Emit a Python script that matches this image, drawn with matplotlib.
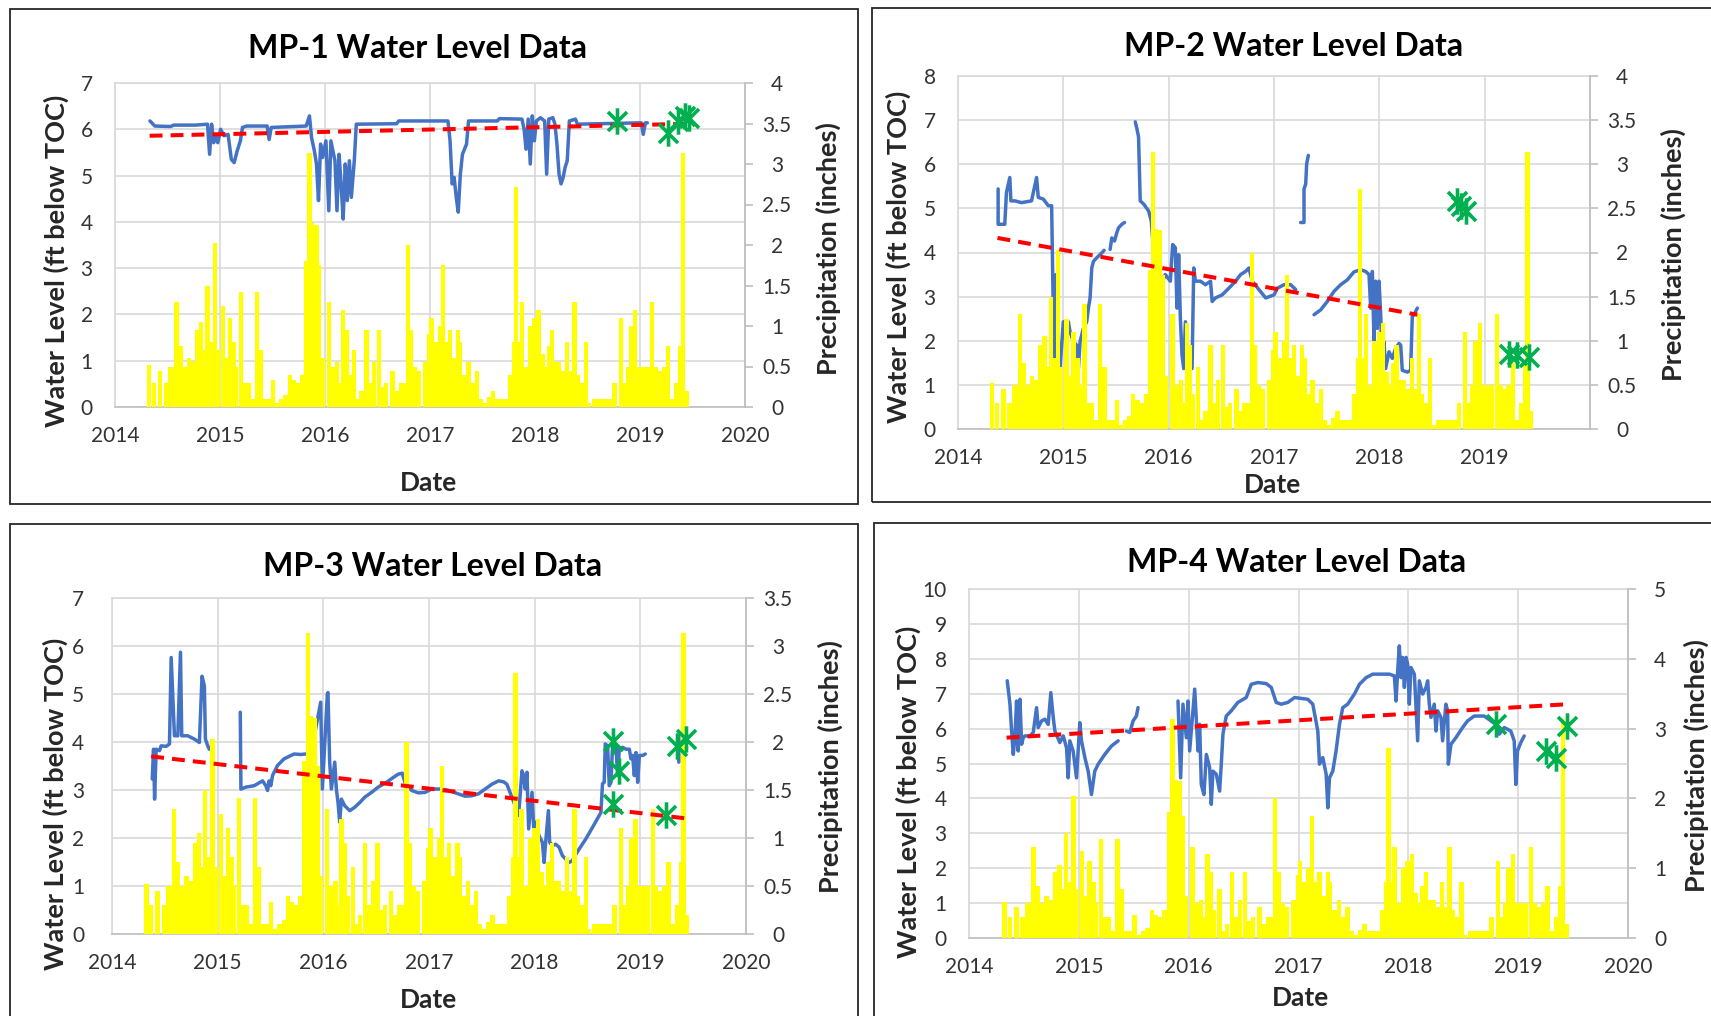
import numpy as np
import matplotlib
matplotlib.use('Agg')
import matplotlib.pyplot as plt
from matplotlib.path import Path
from matplotlib.patches import Rectangle

W, H = 1711, 1016
plt.rcParams['font.family'] = ['Lato', 'DejaVu Sans']
fig = plt.figure(figsize=(W / 100, H / 100), dpi=100)

N = float('nan')
YEARS = [2014, 2015, 2016, 2017, 2018, 2019, 2020]

# weekly-ish precipitation totals (inches), shared by all four wells
PRECIP = [
    (2014.325, 0.52), (2014.372, 0.30), (2014.431, 0.45), (2014.489, 0.30), (2014.529, 0.50),
    (2014.560, 0.50), (2014.587, 1.30), (2014.626, 0.75), (2014.666, 0.50), (2014.705, 0.60),
    (2014.744, 0.55), (2014.783, 0.95), (2014.822, 1.05), (2014.850, 0.70), (2014.881, 1.50),
    (2014.912, 0.80), (2014.951, 2.03), (2014.979, 0.70), (2015.030, 1.25), (2015.057, 0.60),
    (2015.096, 1.10), (2015.135, 0.80), (2015.155, 0.50), (2015.202, 1.42), (2015.233, 0.30),
    (2015.273, 0.30), (2015.312, 0.10), (2015.351, 1.42), (2015.390, 0.70), (2015.429, 0.10),
    (2015.468, 0.10), (2015.507, 0.33), (2015.547, 0.05), (2015.586, 0.10), (2015.625, 0.15),
    (2015.664, 0.40), (2015.703, 0.33), (2015.742, 0.30), (2015.782, 0.40), (2015.821, 1.80),
    (2015.852, 3.14), (2015.879, 2.27), (2015.919, 2.25), (2015.946, 1.75), (2015.977, 0.60),
    (2016.036, 1.30), (2016.075, 0.50), (2016.114, 0.55), (2016.142, 0.30), (2016.173, 1.20),
    (2016.204, 0.95), (2016.232, 0.40), (2016.279, 0.70), (2016.310, 0.10), (2016.349, 0.20),
    (2016.396, 0.95), (2016.428, 0.30), (2016.467, 0.55), (2016.514, 0.95), (2016.545, 0.25),
    (2016.584, 0.30), (2016.643, 0.45), (2016.682, 0.20), (2016.721, 0.30), (2016.760, 0.30),
    (2016.788, 2.00), (2016.819, 0.95), (2016.858, 0.50), (2016.897, 0.45), (2016.956, 0.55),
    (2016.995, 0.90), (2017.015, 1.10), (2017.054, 0.80), (2017.093, 1.00), (2017.121, 1.75),
    (2017.152, 0.80), (2017.191, 0.95), (2017.230, 0.60), (2017.269, 0.95), (2017.289, 0.80),
    (2017.328, 0.40), (2017.367, 0.55), (2017.406, 0.30), (2017.446, 0.45), (2017.485, 0.10),
    (2017.524, 0.05), (2017.563, 0.12), (2017.602, 0.20), (2017.641, 0.10), (2017.680, 0.10),
    (2017.720, 0.10), (2017.759, 0.40), (2017.798, 0.80), (2017.818, 2.72), (2017.849, 0.80),
    (2017.876, 1.30), (2017.915, 0.50), (2017.955, 1.00), (2017.994, 1.10), (2018.033, 1.20),
    (2018.072, 0.65), (2018.099, 0.50), (2018.131, 0.75), (2018.162, 0.95), (2018.190, 0.55),
    (2018.229, 0.55), (2018.268, 0.45), (2018.307, 0.80), (2018.346, 0.45), (2018.377, 1.30),
    (2018.405, 0.40), (2018.444, 0.30), (2018.483, 0.80), (2018.515, 0.05), (2018.561, 0.10),
    (2018.601, 0.10), (2018.640, 0.10), (2018.679, 0.10), (2018.718, 0.10), (2018.757, 0.30),
    (2018.816, 1.10), (2018.855, 0.30), (2018.883, 0.50), (2018.914, 1.00), (2018.953, 1.20),
    (2018.992, 0.50), (2019.031, 0.50), (2019.070, 0.50), (2019.117, 1.30), (2019.149, 0.50),
    (2019.188, 0.45), (2019.227, 0.50), (2019.266, 0.75), (2019.305, 0.10), (2019.345, 0.30),
    (2019.384, 0.75), (2019.407, 3.14), (2019.442, 0.20),
]

MP1_LEVEL = [
    (2014.333, 6.18), (2014.380, 6.07), (2014.529, 6.06), (2014.560, 6.09), (2014.764, 6.09),
    (2014.881, 6.11), (2014.901, 5.46), (2014.920, 6.11), (2014.940, 5.71), (2014.959, 5.89),
    (2014.979, 5.71), (2015.006, 6.00), (2015.038, 5.86), (2015.077, 5.89), (2015.108, 5.35),
    (2015.135, 5.28), (2015.163, 5.53), (2015.194, 5.75), (2015.214, 6.04), (2015.253, 6.07),
    (2015.449, 6.07), (2015.468, 5.78), (2015.488, 6.04), (2015.821, 6.07), (2015.852, 6.29),
    (2015.872, 5.82), (2015.899, 5.53), (2015.919, 5.25), (2015.938, 4.46), (2015.958, 5.68),
    (2015.977, 5.39), (2016.009, 5.75), (2016.036, 4.24), (2016.056, 5.75), (2016.095, 5.32),
    (2016.114, 4.24), (2016.134, 5.46), (2016.153, 4.82), (2016.173, 4.06), (2016.193, 5.25),
    (2016.212, 4.46), (2016.232, 5.32), (2016.251, 4.53), (2016.279, 5.32), (2016.298, 6.11),
    (2016.682, 6.12), (2016.702, 6.18), (2017.171, 6.18), (2017.191, 5.75), (2017.211, 4.82),
    (2017.230, 4.96), (2017.250, 4.53), (2017.269, 4.21), (2017.289, 5.03), (2017.309, 5.46),
    (2017.348, 5.68), (2017.367, 6.18), (2017.641, 6.18), (2017.661, 6.23), (2017.876, 6.22),
    (2017.896, 6.00), (2017.915, 5.57), (2017.935, 6.22), (2017.955, 5.25), (2017.974, 6.29),
    (2017.994, 5.75), (2018.013, 6.18), (2018.052, 6.25), (2018.092, 6.18), (2018.111, 5.03),
    (2018.131, 6.22), (2018.170, 6.25), (2018.190, 6.11), (2018.209, 5.68), (2018.229, 5.03),
    (2018.248, 4.82), (2018.268, 4.96), (2018.287, 5.18), (2018.307, 5.32), (2018.327, 6.18),
    (2018.385, 6.22), (2018.405, 6.11), (2019.012, 6.14), (2019.031, 5.89), (2019.051, 6.14),
    (2019.070, 6.14),
]
MP1_TREND = [(2014.33, 5.86), (2019.50, 6.12)]
MP1_MANUAL = [(2018.785, 6.18), (2019.266, 5.93), (2019.364, 6.18), (2019.430, 6.28), (2019.462, 6.25)]

MP2_LEVEL = [
    (2014.381, 5.44), (2014.381, 4.64), (2014.444, 4.64), (2014.460, 5.36), (2014.492, 5.70),
    (2014.502, 5.17), (2014.540, 5.17), (2014.603, 5.13), (2014.698, 5.17), (2014.746, 5.70),
    (2014.762, 5.25), (2014.810, 5.21), (2014.857, 5.06), (2014.889, 5.06), (2014.898, 3.65),
    (2014.914, 1.44), (2014.930, 3.50), (2014.946, 1.98), (2014.968, 1.37), (2015.000, 2.43),
    (2015.032, 2.28), (2015.048, 2.43), (2015.063, 2.21), (2015.095, 1.98), (2015.127, 1.90),
    (2015.143, 1.37), (2015.159, 1.98), (2015.190, 2.28), (2015.222, 2.43), (2015.238, 2.74),
    (2015.254, 2.97), (2015.270, 3.65), (2015.286, 3.80), (2015.317, 3.88), (2015.365, 3.99),
    (2015.387, 4.05), (N, N),
    (2015.444, 4.07), (2015.460, 4.33), (2015.486, 4.26), (2015.508, 4.45), (2015.524, 4.56),
    (2015.556, 4.64), (2015.581, 4.68), (N, N),
    (2015.683, 6.96), (2015.698, 6.81), (2015.714, 6.62), (2015.730, 5.17), (2015.762, 5.10),
    (2015.810, 4.94), (2015.835, 4.71), (2015.889, 3.04), (2015.968, 3.50), (2016.016, 3.35),
    (2016.038, 4.18), (2016.063, 4.11), (2016.079, 2.74), (2016.095, 3.95), (2016.111, 2.51),
    (2016.127, 1.67), (2016.143, 1.37), (2016.159, 2.43), (2016.190, 1.52), (2016.222, 1.37),
    (2016.238, 3.65), (2016.254, 3.35), (2016.302, 3.35), (2016.349, 3.27), (2016.397, 3.35),
    (2016.413, 2.89), (2016.444, 2.97), (2016.508, 3.04), (2016.571, 3.19), (2016.635, 3.35),
    (2016.683, 3.50), (2016.730, 3.57), (2016.762, 3.65), (2016.794, 3.35), (2016.857, 3.16),
    (2016.921, 2.97), (2017.000, 3.04), (2017.032, 3.19), (2017.095, 3.27), (2017.158, 3.27),
    (2017.206, 3.16), (N, N),
    (2017.253, 4.68), (2017.285, 4.68), (2017.285, 5.44), (2017.301, 5.55), (2017.310, 6.01),
    (2017.326, 6.20), (N, N),
    (2017.380, 2.59), (2017.443, 2.70), (2017.506, 2.89), (2017.570, 3.12), (2017.633, 3.27),
    (2017.696, 3.38), (2017.759, 3.56), (2017.823, 3.61), (2017.870, 3.57), (2017.902, 3.50),
    (2017.918, 2.74), (2017.934, 3.57), (2017.949, 1.98), (2017.965, 3.35), (2017.981, 2.28),
    (2017.997, 3.35), (2018.013, 2.59), (2018.028, 1.52), (2018.044, 1.98), (2018.060, 1.37),
    (2018.092, 1.75), (2018.123, 1.60), (2018.155, 1.83), (2018.187, 1.94), (2018.203, 1.90),
    (2018.218, 1.33), (2018.266, 1.29), (2018.297, 1.33), (2018.313, 2.55), (2018.329, 2.59),
    (2018.361, 2.74),
]
MP2_TREND = [(2014.375, 4.33), (2018.361, 2.59)]
MP2_MANUAL = [(2018.740, 5.17), (2018.772, 5.06), (2018.820, 4.94), (2019.231, 1.71),
              (2019.310, 1.67), (2019.421, 1.64)]

MP3_LEVEL = [
    (2014.381, 3.23), (2014.393, 3.85), (2014.403, 2.81), (2014.418, 3.85), (2014.450, 3.82),
    (2014.465, 3.92), (2014.513, 3.91), (2014.544, 3.96), (2014.560, 5.76), (2014.591, 4.13),
    (2014.623, 4.13), (2014.648, 5.87), (2014.660, 4.13), (2014.717, 4.13), (2014.780, 4.06),
    (2014.827, 3.99), (2014.852, 5.37), (2014.874, 5.17), (2014.884, 4.06), (2014.906, 3.92),
    (2014.921, 3.85), (N, N),
    (2015.214, 4.62), (2015.220, 3.02), (2015.267, 3.06), (2015.346, 3.09), (2015.425, 3.19),
    (2015.456, 3.09), (2015.472, 2.99), (2015.487, 3.19), (2015.503, 3.09), (2015.519, 3.30),
    (2015.566, 3.51), (2015.629, 3.65), (2015.723, 3.75), (2015.786, 3.74), (2015.833, 3.75),
    (2015.880, 3.72), (2015.975, 4.83), (2015.991, 3.02), (2016.038, 5.00), (2016.044, 5.03),
    (2016.060, 3.58), (2016.076, 3.02), (2016.108, 3.58), (2016.123, 3.02), (2016.139, 2.74),
    (2016.155, 2.33), (2016.171, 2.81), (2016.203, 2.67), (2016.250, 2.57), (2016.297, 2.64),
    (2016.345, 2.74), (2016.392, 2.85), (2016.456, 2.95), (2016.519, 3.06), (2016.598, 3.16),
    (2016.661, 3.26), (2016.709, 3.33), (2016.747, 3.35), (2016.772, 3.16), (2016.835, 2.99),
    (2016.899, 2.94), (2016.962, 2.95), (2017.025, 3.02), (2017.120, 3.02), (2017.184, 2.99),
    (2017.278, 2.92), (2017.342, 2.87), (2017.405, 2.88), (2017.468, 2.92), (2017.532, 3.02),
    (2017.595, 3.12), (2017.658, 3.19), (2017.706, 3.17), (2017.737, 3.12), (2017.816, 2.67),
    (2017.848, 2.47), (2017.880, 3.40), (2017.896, 3.30), (2017.911, 3.02), (2017.927, 3.37),
    (2017.943, 2.19), (2017.975, 2.95), (2017.991, 2.19), (2018.006, 2.33), (2018.041, 2.05),
    (2018.073, 1.91), (2018.089, 1.49), (2018.104, 1.91), (2018.130, 2.57), (2018.142, 1.91),
    (2018.168, 1.84), (2018.199, 1.87), (2018.231, 1.81), (2018.263, 1.63), (2018.294, 1.56),
    (2018.326, 1.49), (2018.358, 1.53), (2018.373, 1.60), (2018.421, 1.77), (2018.484, 1.98),
    (2018.547, 2.22), (2018.627, 2.53), (2018.642, 3.13), (2018.658, 3.16), (2018.668, 3.96),
    (2018.690, 3.92), (2018.706, 3.09), (2018.722, 3.16), (2018.737, 3.92), (2018.769, 3.92),
    (2018.785, 3.30), (2018.801, 3.85), (2018.832, 3.89), (2018.864, 3.85), (2018.896, 3.85),
    (2018.911, 3.65), (2018.927, 3.72), (2018.943, 3.30), (2018.959, 3.78), (2018.975, 3.16),
    (2018.991, 3.72), (2019.022, 3.72), (2019.047, 3.75), (N, N),
    (2019.364, 4.13), (2019.364, 3.58),
]
MP3_TREND = [(2014.371, 3.70), (2019.465, 2.40)]
MP3_MANUAL = [(2018.744, 4.03), (2018.801, 3.40), (2018.744, 2.71), (2019.244, 2.47),
              (2019.348, 3.91), (2019.434, 4.06)]

MP4_LEVEL = [
    (2014.348, 7.37), (2014.373, 6.70), (2014.388, 5.93), (2014.403, 5.26), (2014.418, 5.74),
    (2014.433, 6.79), (2014.448, 5.36), (2014.464, 6.84), (2014.479, 5.55), (2014.494, 5.74),
    (2014.509, 5.79), (2014.555, 5.79), (2014.585, 5.89), (2014.615, 6.60), (2014.630, 6.03),
    (2014.661, 6.22), (2014.691, 6.27), (2014.721, 6.12), (2014.745, 7.03), (2014.767, 6.32),
    (2014.782, 5.93), (2014.827, 5.60), (2014.858, 5.79), (2014.888, 5.45), (2014.903, 4.59),
    (2014.918, 5.65), (2014.948, 5.36), (2014.979, 4.59), (2015.009, 6.17), (2015.024, 5.65),
    (2015.055, 5.17), (2015.085, 4.78), (2015.115, 4.11), (2015.145, 4.78), (2015.176, 4.98),
    (2015.236, 5.26), (2015.297, 5.50), (2015.358, 5.65), (N, N),
    (2015.433, 5.93), (2015.464, 5.89), (2015.494, 6.22), (2015.524, 6.36), (2015.539, 6.60),
    (N, N),
    (2015.903, 6.79), (2015.927, 4.59), (2015.948, 6.70), (2015.979, 5.74), (2015.994, 6.79),
    (2016.009, 5.36), (2016.055, 7.13), (2016.085, 5.36), (2016.100, 6.12), (2016.115, 4.40),
    (2016.139, 4.11), (2016.161, 5.26), (2016.191, 4.88), (2016.206, 3.83), (2016.221, 4.78),
    (2016.252, 4.69), (2016.282, 4.21), (2016.297, 4.98), (2016.312, 5.84), (2016.342, 6.36),
    (2016.388, 6.51), (2016.448, 6.75), (2016.524, 6.89), (2016.570, 7.27), (2016.630, 7.32),
    (2016.706, 7.29), (2016.752, 7.18), (2016.797, 6.75), (2016.842, 6.70), (2016.903, 6.75),
    (2016.964, 6.89), (2017.085, 6.84), (2017.130, 6.70), (2017.176, 5.93), (2017.191, 4.98),
    (2017.221, 5.17), (2017.252, 4.69), (2017.267, 3.73), (2017.282, 4.59), (2017.312, 4.78),
    (2017.342, 5.36), (2017.373, 6.12), (2017.403, 6.60), (2017.448, 6.70), (2017.509, 6.99),
    (2017.555, 7.27), (2017.615, 7.46), (2017.676, 7.56), (2017.827, 7.56), (2017.873, 7.51),
    (2017.888, 6.79), (2017.903, 7.66), (2017.918, 8.37), (2017.933, 7.46), (2017.948, 8.04),
    (2017.964, 7.18), (2017.979, 8.04), (2017.994, 7.85), (2018.009, 6.70), (2018.024, 7.75),
    (2018.055, 7.56), (2018.085, 5.65), (2018.100, 7.37), (2018.130, 6.99), (2018.161, 7.18),
    (2018.176, 7.37), (2018.191, 6.70), (2018.206, 6.32), (2018.236, 6.70), (2018.252, 5.93),
    (2018.267, 6.51), (2018.297, 6.32), (2018.312, 5.65), (2018.342, 6.70), (2018.358, 6.51),
    (2018.364, 4.98), (2018.388, 5.55), (2018.433, 5.74), (2018.494, 6.03), (2018.539, 6.22),
    (2018.600, 6.36), (2018.691, 6.36), (2018.752, 6.22), (2018.797, 6.12), (2018.827, 5.84),
    (2018.873, 6.03), (2018.933, 5.93), (2018.964, 5.65), (2018.979, 4.40), (2018.994, 5.36),
    (2019.024, 5.60), (2019.055, 5.79),
]
MP4_TREND = [(2014.342, 5.74), (2019.455, 6.70)]
MP4_MANUAL = [(2018.797, 6.14), (2019.252, 5.36), (2019.342, 5.17), (2019.448, 6.08)]

# ---------------------------------------------------------------- styling
BLUE, YELLOW, RED, GREEN = '#4472C4', '#FFFF00', '#FF0000', '#00B050'
GRID, AXIS, TXT = '#D9D9D9', '#BFBFBF', '#333333'
STAR = Path([(0, -1), (0, 1), (-0.72, -0.72), (0.72, 0.72), (-0.72, 0.72), (0.72, -0.72)],
            [Path.MOVETO, Path.LINETO] * 3)

PANELS = [
    dict(title='MP-1 Water Level Data', level=MP1_LEVEL, trend=MP1_TREND, manual=MP1_MANUAL,
         lmax=7, rmax=4.0, rstep=0.5, ax=(115, 83, 745, 407), box=(10, 9, 858, 504),
         tpos=(418, 48), lpos=(56, 261), rpos=(828, 249), dpos=(429, 483), xlab=YEARS, lpad=16),
    dict(title='MP-2 Water Level Data', level=MP2_LEVEL, trend=MP2_TREND, manual=MP2_MANUAL,
         lmax=8, rmax=4.0, rstep=0.5, ax=(958, 76, 1590, 429), box=(872, 8, 1725, 502),
         tpos=(1294, 47), lpos=(898, 257), rpos=(1673, 255), dpos=(1272, 485), xlab=YEARS[:-1], lpad=16),
    dict(title='MP-3 Water Level Data', level=MP3_LEVEL, trend=MP3_TREND, manual=MP3_MANUAL,
         lmax=7, rmax=3.5, rstep=0.5, ax=(112, 598, 746, 934), box=(10, 524, 858, 1030),
         tpos=(433, 567), lpos=(55, 804), rpos=(830, 767), dpos=(428, 1000), xlab=YEARS, lpad=20),
    dict(title='MP-4 Water Level Data', level=MP4_LEVEL, trend=MP4_TREND, manual=MP4_MANUAL,
         lmax=10, rmax=5.0, rstep=1.0, ax=(969, 589, 1628, 938), box=(874, 523, 1725, 1030),
         tpos=(1297, 563), lpos=(908, 792), rpos=(1696, 766), dpos=(1300, 998), xlab=YEARS, lpad=16),
]


def fx(x):
    return x / W


def fy(y):
    return 1 - y / H


px, pv = zip(*PRECIP)

for p in PANELS:
    l, t, r, b = p['ax']
    ax = fig.add_axes([fx(l), fy(b), (r - l) / W, (b - t) / H])
    ax.set_xlim(2014, 2020)
    ax.set_ylim(0, p['lmax'])
    ax.set_axisbelow(True)
    ax.grid(True, color=GRID, lw=1.2)
    ax.set_xticks(YEARS)
    ax.set_xticklabels([str(y) if y in p['xlab'] else '' for y in YEARS])
    ax.set_yticks(range(0, p['lmax'] + 1))
    ax.tick_params(axis='x', length=0, pad=14, labelsize=15, labelcolor=TXT)
    ax.tick_params(axis='y', length=0, pad=p['lpad'], labelsize=15, labelcolor=TXT)
    for s in ax.spines.values():
        s.set_color(GRID)
        s.set_linewidth(1.2)
    ax.spines['bottom'].set_color(AXIS)

    lx, ly = zip(*p['level'])
    ax.plot(lx, ly, color=BLUE, lw=2.5, solid_joinstyle='round', solid_capstyle='round')

    ax2 = ax.twinx()
    ax2.set_ylim(0, p['rmax'])
    ax2.bar(px, pv, width=0.041, color=YELLOW, linewidth=0, align='center')
    rt = np.arange(0, p['rmax'] + 0.001, p['rstep'])
    ax2.set_yticks(rt)
    ax2.set_yticklabels([f'{v:g}' for v in rt])
    plt.setp(ax2.get_yticklabels(), ha='center')
    ax2.tick_params(axis='y', direction='out', length=6, width=1.2, color=AXIS,
                    pad=17, labelsize=15, labelcolor=TXT)
    for k, s in ax2.spines.items():
        s.set_visible(k == 'right')
    ax2.spines['right'].set_color(AXIS)
    ax2.spines['right'].set_linewidth(1.2)

    ax3 = ax.twinx()
    ax3.set_ylim(0, p['lmax'])
    ax3.axis('off')
    tx, ty = zip(*p['trend'])
    ax3.plot(tx, ty, color=RED, lw=2.9, dashes=(3.2, 2.0), dash_capstyle='butt')
    mx, my = zip(*p['manual'])
    ax3.plot(mx, my, ls='none', marker=STAR, ms=19, mew=2.6, mec=GREEN, mfc='none', clip_on=False)

    bl, bt, br, bb = p['box']
    fig.patches.append(Rectangle((fx(bl), fy(bb)), (br - bl) / W, (bb - bt) / H,
                                 transform=fig.transFigure, fill=False, ec='#262626', lw=1.3))
    fig.text(fx(p['tpos'][0]), fy(p['tpos'][1]), p['title'], ha='center', va='center',
             fontsize=23, fontweight='bold', color='#000000')
    fig.text(fx(p['lpos'][0]), fy(p['lpos'][1]), 'Water Level (ft below TOC)', rotation=90,
             ha='center', va='center', fontsize=19.5, fontweight='bold', color='#262626')
    fig.text(fx(p['rpos'][0]), fy(p['rpos'][1]), 'Precipitation (inches)', rotation=90,
             ha='center', va='center', fontsize=19.5, fontweight='bold', color='#262626')
    fig.text(fx(p['dpos'][0]), fy(p['dpos'][1]), 'Date', ha='center', va='center',
             fontsize=19, fontweight='bold', color='#262626')

fig.savefig('out.png', dpi=100)
